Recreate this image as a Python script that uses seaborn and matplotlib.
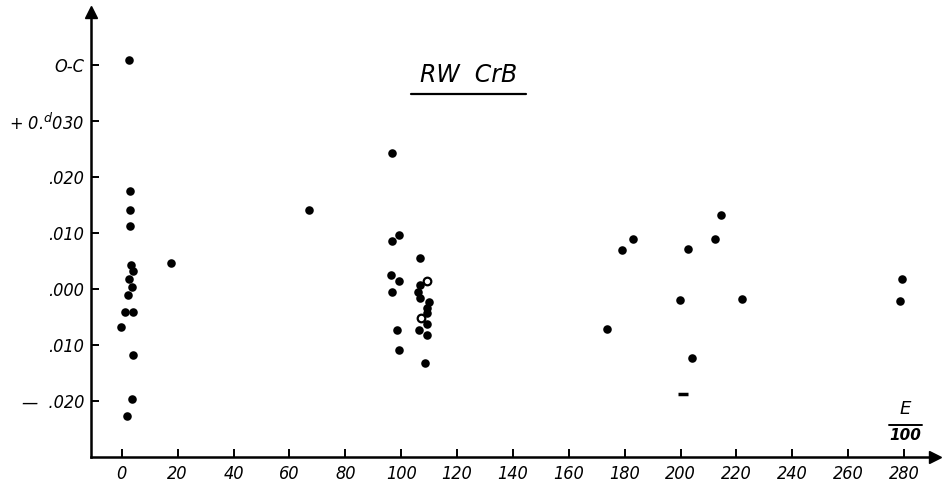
import matplotlib
matplotlib.use("Agg")
import matplotlib.pyplot as plt
from matplotlib.lines import Line2D
import seaborn as sns
import pandas as pd

# epoch E/100 and O-C (days)
epoch = [2.5, 2.9, 2.9, 2.9, 3.2, 4.1, 2.6, 3.6, 2.4, 1.2, 3.9, -0.3, 3.9, 3.6, 1.8,
         17.6, 67.0,
         96.7, 99.2, 96.9, 106.8, 96.4, 99.3, 96.9, 106.7, 106.2, 106.7, 109.8,
         109.4, 109.1, 109.4, 98.4, 106.4, 109.1, 99.2, 108.5,
         173.5, 178.9, 182.9, 199.7, 202.7, 204.0, 212.4, 214.3, 222.1,
         278.7, 279.3]
o_c = [0.0409, 0.0176, 0.0142, 0.0113, 0.0043, 0.0033, 0.0018, 0.0004, -0.0011,
       -0.0041, -0.0041, -0.0067, -0.0117, -0.0197, -0.0226,
       0.0046, 0.0141,
       0.0244, 0.0096, 0.0086, 0.0055, 0.0026, 0.0014, -0.0005, 0.0007, -0.0005,
       -0.0015, -0.0023, -0.0033, -0.0043, -0.0063, -0.0073, -0.0073, -0.0082,
       -0.0109, -0.0132,
       -0.0071, 0.0070, 0.0090, -0.0020, 0.0071, -0.0123, 0.0090, 0.0132, -0.0018,
       -0.0021, 0.0018]
# hollow circles
epoch_open = [109.1, 107.2]
o_c_open = [0.0015, -0.0052]
# the flattened dash near E=200
epoch_dash = [200.9]
o_c_dash = [-0.0188]

x_ticks = [0, 20, 40, 60, 80, 100, 120, 140, 160, 180, 200, 220, 240, 260, 280]
x_labels = ["0", "20", "40", "60", "80", "100", "120", "140", "160", "180",
            "200", "220", "240", "260", "280"]
y_ticks = [0.040, 0.030, 0.020, 0.010, 0.000, -0.010, -0.020]
y_labels = ["O-C", "+ 0.$^{d}$030", ".020", ".010", ".000", ".010", "\u2014  .020"]

df = pd.DataFrame({"E": epoch, "OC": o_c})
df_open = pd.DataFrame({"E": epoch_open, "OC": o_c_open})
df_dash = pd.DataFrame({"E": epoch_dash, "OC": o_c_dash})

sns.set_style("ticks")
plt.rcParams["font.family"] = ["DejaVu Sans"]
plt.rcParams["text.color"] = "black"

fig = plt.figure(figsize=(9.46, 4.84), dpi=100)
ax = fig.add_axes([0.0962, 0.0558, 0.892, 0.919])

sns.scatterplot(x="E", y="OC", data=df, color="black", s=38, edgecolor="black",
                linewidth=0, ax=ax, zorder=3)
sns.scatterplot(x="E", y="OC", data=df_open, color="white", s=30, edgecolor="black",
                linewidth=1.6, ax=ax, zorder=3)
sns.scatterplot(x="E", y="OC", data=df_dash, color="black", marker="_", s=60,
                linewidth=2.5, ax=ax, zorder=3)

ax.set_xlim(-11, 291)
ax.set_ylim(-0.030, 0.0495)

lab_font = dict(family="DejaVu Sans", style="italic", stretch="condensed", size=13,
                color="black")
ax.set_xticks(x_ticks)
ax.set_xticklabels(x_labels, fontdict=lab_font)
ax.set_yticks(y_ticks)
ax.set_yticklabels(y_labels, fontdict=lab_font)
ax.tick_params(axis="both", direction="in", length=6, width=1.4, colors="black")
ax.tick_params(axis="x", pad=6)
ax.tick_params(axis="y", pad=5)

ax.set_xlabel("")
ax.set_ylabel("")
sns.despine(ax=ax)
for side in ["left", "bottom"]:
    ax.spines[side].set_linewidth(1.8)
    ax.spines[side].set_color("black")

# arrow heads on the axes
ax.plot(1, 0, ">", color="black", markersize=8, transform=ax.transAxes, clip_on=False)
ax.plot(0, 1, "^", color="black", markersize=8, transform=ax.transAxes, clip_on=False)

# title, underlined
fig.text(0.495, 0.845, "RW  CrB", ha="center", va="center", fontsize=17,
         style="italic", family="DejaVu Sans", color="black")
fig.add_artist(Line2D([0.434, 0.556], [0.805, 0.805], color="black", linewidth=1.6))

# E / 100 axis label
ax.text(280.5, -0.0214, "E", ha="center", va="center", fontsize=13, style="italic",
        color="black")
ax.plot([274.5, 286.5], [-0.0243, -0.0243], color="black", linewidth=1.4)
ax.text(280.5, -0.0262, "100", ha="center", va="center", fontsize=11,
        style="italic", weight="bold", color="black")

fig.savefig("out.png", dpi=100)
